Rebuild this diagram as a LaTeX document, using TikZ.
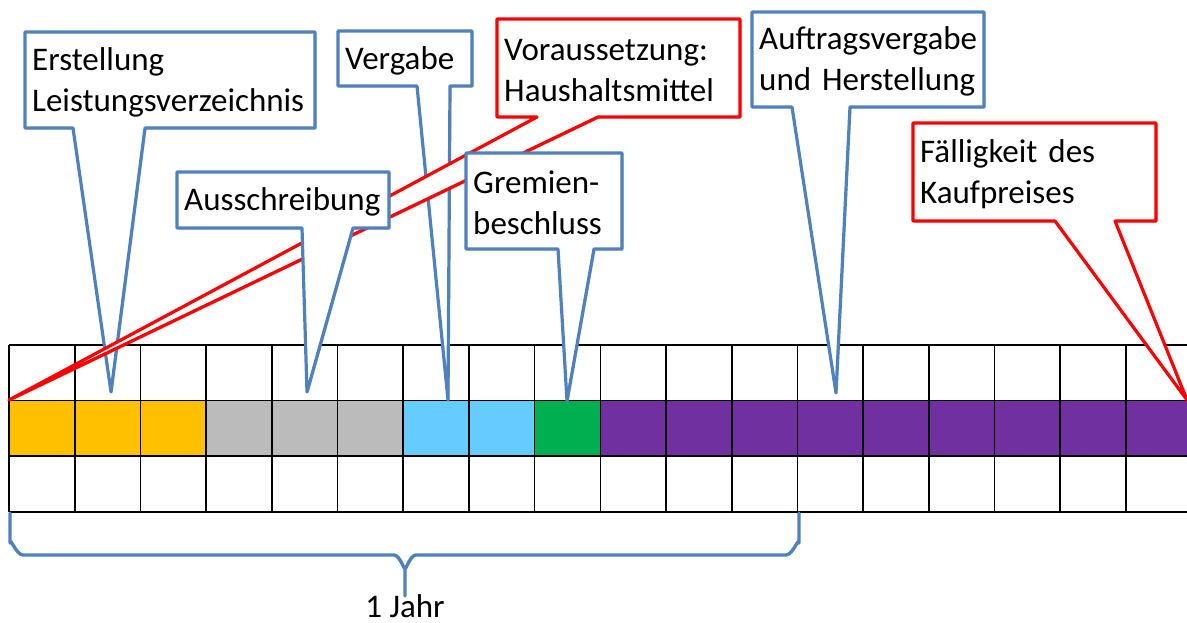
\documentclass[tikz,border=0pt]{standalone}
\usepackage{fontspec}
\setmainfont{Carlito}
\usetikzlibrary{shadows,calc}
\definecolor{cblue}{HTML}{4F81BD}
\definecolor{cred}{HTML}{FF0000}
\definecolor{corange}{HTML}{FFC000}
\definecolor{cgray}{HTML}{BBBBBB}
\definecolor{clblue}{HTML}{66CCFF}
\definecolor{cgreen}{HTML}{00B050}
\definecolor{cpurple}{HTML}{7030A0}
\tikzset{
  gridline/.style={draw=black, line width=1.6pt},
  callblue/.style={draw=cblue, line width=3.2pt, fill=white, line join=round,
    drop shadow={shadow xshift=1.5pt, shadow yshift=-1.5pt, opacity=0.3, fill=black!60}},
  callred/.style={draw=cred, line width=3.2pt, fill=white, line join=round,
    drop shadow={shadow xshift=1.5pt, shadow yshift=-1.5pt, opacity=0.3, fill=black!60}},
  boxtext/.style={anchor=north west, inner xsep=7pt, inner ysep=0pt, align=left,
    font=\fontsize{33}{41}\selectfont, yshift=-2pt},
  bracestyle/.style={draw=cblue, line width=3.4pt, line join=round, line cap=round},
  plain/.style={font=\fontsize{33}{41}\selectfont, inner sep=0pt}
}
\begin{document}
\begin{tikzpicture}[x=1pt,y=-1pt]
\useasboundingbox (0,0) rectangle (1187,623);
\clip (0,0) rectangle (1187,623);
% timeline grid
\foreach \i/\c in {0/corange,1/corange,2/corange,3/cgray,4/cgray,5/cgray,6/clblue,7/clblue,8/cgreen,
  9/cpurple,10/cpurple,11/cpurple,12/cpurple,13/cpurple,14/cpurple,15/cpurple,16/cpurple,17/cpurple}
  \fill[\c] ({9+\i*65.7},400.6) rectangle ({9+(\i+1)*65.7},456.2);
\foreach \y in {345,400.6,456.2,511.8} \draw[gridline] (9,\y) -- (1195,\y);
\foreach \i in {0,...,17} \draw[gridline] ({9+\i*65.7},345) -- ({9+\i*65.7},511.8);
% brace
\draw[bracestyle] (10,513) -- (10,543) to[out=90,in=180] (23,555) -- (394,555)
  to[out=0,in=-90] (405,567) -- (405,596);
\draw[bracestyle] (405,567) to[out=-90,in=180] (416,555) -- (786,555)
  to[out=0,in=90] (799,543) -- (799,513);
\node[plain, anchor=base] (jahr) at (405,617) {1 Jahr};

% Erstellung Leistungsverzeichnis
\coordinate (e-nw) at (25,32); \coordinate (e-se) at (315,128);
\coordinate (e-l) at (73,128); \coordinate (e-r) at (145,128); \coordinate (e-t) at (111,392);
\draw[callblue] (e-nw) -- (e-se|-e-nw) -- (e-se) -- (e-r) -- (e-t) -- (e-l) -- (e-nw|-e-se) -- cycle;
\node[boxtext, text width=276pt, minimum height=96pt] (erst) at (e-nw) {Erstellung\\Leistungsverzeichnis};

% Vergabe
\coordinate (v-nw) at (338,31); \coordinate (v-se) at (472,86);
\coordinate (v-l) at (417,86); \coordinate (v-r) at (450,86); \coordinate (v-t) at (448,400);
\draw[callblue] (v-nw) -- (v-se|-v-nw) -- (v-se) -- (v-r) -- (v-t) -- (v-l) -- (v-nw|-v-se) -- cycle;
\node[boxtext, text width=120pt, minimum height=55pt] (verg) at (v-nw) {Vergabe};

% Auftragsvergabe und Herstellung
\coordinate (a-nw) at (752,12); \coordinate (a-se) at (984,107);
\coordinate (a-l) at (792,107); \coordinate (a-r) at (850,107); \coordinate (a-t) at (836,393);
\draw[callblue] (a-nw) -- (a-se|-a-nw) -- (a-se) -- (a-r) -- (a-t) -- (a-l) -- (a-nw|-a-se) -- cycle;
\node[boxtext, text width=218pt, minimum height=95pt] (auft) at (a-nw) {Auftragsvergabe\\und Herstellung};

% Voraussetzung: Haushaltsmittel
\coordinate (h-nw) at (497,19); \coordinate (h-se) at (740,117);
\coordinate (h-l) at (537,117); \coordinate (h-r) at (598,117); \coordinate (h-t) at (9,400);
\draw[callred] (h-nw) -- (h-se|-h-nw) -- (h-se) -- (h-r) -- (h-t) -- (h-l) -- (h-nw|-h-se) -- cycle;
\node[boxtext, text width=229pt, minimum height=98pt] (haus) at (h-nw) {Voraussetzung:\\Haushaltsmittel};

% Ausschreibung
\coordinate (s-nw) at (177,172); \coordinate (s-se) at (389,228);
\coordinate (s-l) at (302,228); \coordinate (s-r) at (353,228); \coordinate (s-t) at (307,392);
\draw[callblue] (s-nw) -- (s-se|-s-nw) -- (s-se) -- (s-r) -- (s-t) -- (s-l) -- (s-nw|-s-se) -- cycle;
\node[boxtext, text width=198pt, minimum height=56pt] (auss) at (s-nw) {Ausschreibung};

% Gremienbeschluss
\coordinate (g-nw) at (466,153); \coordinate (g-se) at (622,249);
\coordinate (g-l) at (558,249); \coordinate (g-r) at (594,249); \coordinate (g-t) at (567,401);
\draw[callblue] (g-nw) -- (g-se|-g-nw) -- (g-se) -- (g-r) -- (g-t) -- (g-l) -- (g-nw|-g-se) -- cycle;
\node[boxtext, text width=142pt, minimum height=96pt] (grem) at (g-nw) {Gremien-\\beschluss};

% Fälligkeit des Kaufpreises
\coordinate (f-nw) at (913,123); \coordinate (f-se) at (1156,221);
\coordinate (f-l) at (1055,221); \coordinate (f-r) at (1115,221); \coordinate (f-t) at (1187,400);
\draw[callred] (f-nw) -- (f-se|-f-nw) -- (f-se) -- (f-r) -- (f-t) -- (f-l) -- (f-nw|-f-se) -- cycle;
\node[boxtext, text width=229pt, minimum height=98pt] (faell) at (f-nw) {Fälligkeit des\\Kaufpreises};
\end{tikzpicture}
\end{document}
